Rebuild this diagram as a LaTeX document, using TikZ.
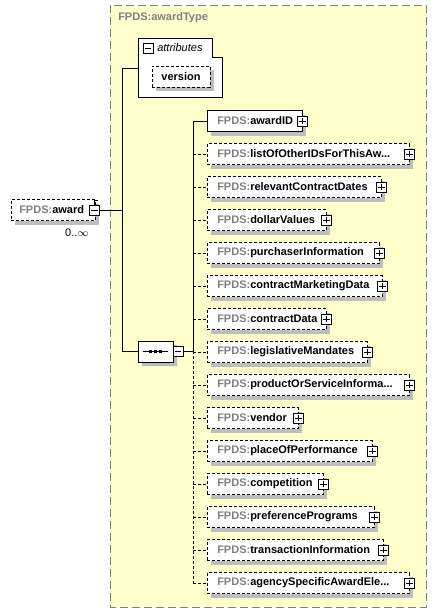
\documentclass[tikz,border=0pt]{standalone}
\usepackage{fontspec}
\setmainfont{Liberation Sans}
\usetikzlibrary{positioning,shapes.misc}

\definecolor{typefill}{RGB}{255,255,204}
\definecolor{typeline}{RGB}{128,128,128}
\definecolor{prefixgray}{RGB}{128,128,128}
\definecolor{boxshade}{RGB}{190,190,190}

\newcommand{\fpds}{\textcolor{prefixgray}{FPDS:}}

\tikzstyle{boxshadow} = [preaction={draw=none, fill=boxshade, transform canvas={shift={(3pt,-3pt)}}}]
\tikzstyle{elem} = [rectangle, draw, fill=white, boxshadow, minimum height=15.75pt, inner ysep=0pt, inner xsep=7.5pt, align=left, font=\fontsize{8.25}{10}\selectfont\bfseries]
\tikzstyle{optelem} = [elem, dash pattern=on 2.25pt off 1.5pt]
\tikzstyle{plusbox} = [rectangle, draw, fill=white, line width=0.6pt, minimum size=7.5pt, inner sep=0pt, path picture={\draw[line width=0.5pt] ([xshift=1.3pt]path picture bounding box.west) -- ([xshift=-1.3pt]path picture bounding box.east) ([yshift=-1.3pt]path picture bounding box.north) -- ([yshift=1.3pt]path picture bounding box.south);}]
\tikzstyle{minusbox} = [rectangle, draw, fill=white, line width=0.6pt, minimum size=7.5pt, inner sep=0pt, path picture={\draw[line width=0.5pt] ([xshift=1.3pt]path picture bounding box.west) -- ([xshift=-1.3pt]path picture bounding box.east);}]
\tikzstyle{seqbox} = [chamfered rectangle, chamfered rectangle xsep=2.5pt, chamfered rectangle ysep=2.5pt, draw, fill=white, boxshadow, minimum width=26.25pt, minimum height=15.75pt, inner sep=0pt]
\tikzstyle{link} = [thin, black]
\tikzstyle{optlink} = [thin, black, dash pattern=on 2.25pt off 1.5pt]

\begin{document}
\begin{tikzpicture}
    [x=0.75pt, y=-0.75pt, node distance=24.75pt]
  \useasboundingbox (0,0) rectangle (437,614);
  \draw[fill=typefill, draw=typeline, dash pattern=on 6pt off 3pt] (110,5) rectangle (426,607);
  \node[anchor=west, inner sep=0pt, text=typeline, font=\fontsize{8.25}{10}\selectfont\bfseries] (tname) at (118,18) {FPDS:awardType};
  % attributes
  \draw[fill=white] (138,38) -- (212,38) -- (212,57) -- (222,57) -- (222,97) -- (138,97) -- cycle;
  \coordinate (attr) at (138,68);
  \node[minusbox] (amin) at (148,48) {};
  \node[anchor=west, inner sep=0pt, font=\fontsize{8.25}{10}\selectfont\itshape] (alabel) at (157,48) {attributes};
  \node[optelem, inner xsep=0pt, minimum width=43.5pt] (version) at (181,76.5) {version};
  % root element
  \node[optelem, anchor=west, inner xsep=6pt, text width=51pt] (award) at (11,210) {\fpds award};
  \draw (94.5,204.5) |- (97.5,200.5);
  \node[minusbox] (awdmin) at (94.5,210) {};
  \node[anchor=east, inner sep=0pt, font=\fontsize{8.25}{10}\selectfont] (card) at (89,233) {0..$\infty$};
  % sequence
  \node[seqbox] (seq) at (155.5,351.5) {};
  \draw ([xshift=3.75pt]seq.west) -- ([xshift=-3.75pt]seq.east);
  \foreach \d in {-3.75pt,0pt,3.75pt}
    \fill ([xshift=\d]seq.center) +(-1.1pt,-1.1pt) rectangle +(1.1pt,1.1pt);
  \node[minusbox] (seqmin) at (178,351) {};
  \coordinate (bus) at (193,351);
  % children
  \node[elem, anchor=west, text width=56.25pt] (c1) at (207,121) {\fpds awardID};
  \node[optelem, below=of c1.west, anchor=west, text width=136.5pt] (c2) {\fpds listOfOtherIDsForThisAw...};
  \node[optelem, below=of c2.west, anchor=west, text width=115.5pt] (c3) {\fpds relevantContractDates};
  \node[optelem, below=of c3.west, anchor=west, text width=74.25pt] (c4) {\fpds dollarValues};
  \node[optelem, below=of c4.west, anchor=west, text width=114pt] (c5) {\fpds purchaserInformation};
  \node[optelem, below=of c5.west, anchor=west, text width=116.25pt] (c6) {\fpds contractMarketingData};
  \node[optelem, below=of c6.west, anchor=west, text width=74.25pt] (c7) {\fpds contractData};
  \node[optelem, below=of c7.west, anchor=west, text width=105pt] (c8) {\fpds legislativeMandates};
  \node[optelem, below=of c8.west, anchor=west, text width=136.5pt] (c9) {\fpds productOrServiceInforma...};
  \node[optelem, below=of c9.west, anchor=west, text width=53.25pt] (c10) {\fpds vendor};
  \node[optelem, below=of c10.west, anchor=west, text width=108.75pt] (c11) {\fpds placeOfPerformance};
  \node[optelem, below=of c11.west, anchor=west, text width=72pt] (c12) {\fpds competition};
  \node[optelem, below=of c12.west, anchor=west, text width=110.25pt] (c13) {\fpds preferencePrograms};
  \node[optelem, below=of c13.west, anchor=west, text width=117pt] (c14) {\fpds transactionInformation};
  \node[optelem, below=of c14.west, anchor=west, text width=136.5pt] (c15) {\fpds agencySpecificAwardEle...};
  \foreach \n in {c1,c2,c3,c4,c5,c6,c7,c8,c9,c10,c11,c12,c13,c14,c15}
    \node[plusbox] at (\n.east) {};
  % connectors
  \draw[link] (awdmin.east) -- ([xshift=-11.25pt]awdmin.east -| attr);
  \draw[link] ([xshift=-11.25pt]attr) -- (attr);
  \draw[link] ([xshift=-11.25pt]attr) -- ([xshift=-11.25pt]seq.west |- attr) |- (seq.west);
  \draw[link] (seqmin.east) -- (bus);
  \draw[link] (c1.west -| bus) -- (bus);
  \draw[optlink] (bus) -- (c15.west -| bus);
  \draw[link] (c1.west -| bus) -- (c1.west);
  \foreach \n in {c2,c3,c4,c5,c6,c7,c8,c9,c10,c11,c12,c13,c14,c15}
    \draw[optlink] (\n.west -| bus) -- (\n.west);
\end{tikzpicture}
\end{document}
